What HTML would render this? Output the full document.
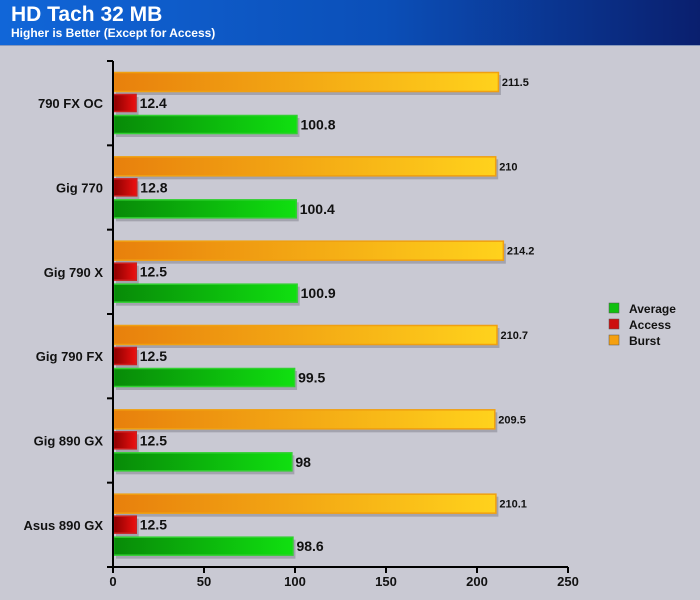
<!DOCTYPE html>
<html><head><meta charset="utf-8"><style>
body{margin:0;width:700px;height:600px;overflow:hidden;background:#c9c9d3;font-family:"Liberation Sans",Arial,sans-serif}
#hdr{position:absolute;left:0;top:0;width:700px;height:45px;background:linear-gradient(90deg,#1166d8 0%,#0b4fb8 55%,#0a1f6e 100%);border-bottom:1px solid #8899bb}
#t1{position:absolute;left:11px;top:3px;color:#fff;font-weight:bold;font-size:21px}
#t2{position:absolute;left:11px;top:26px;color:#fff;font-weight:bold;font-size:12px}
svg{position:absolute;left:0;top:0}
</style></head><body>
<div id="hdr"><div id="t1">HD Tach 32 MB</div><div id="t2">Higher is Better (Except for Access)</div></div>
<svg id="c" width="700" height="600">
<defs>
<linearGradient id="gB" x1="0" x2="1"><stop offset="0" stop-color="#e8800c"/><stop offset="1" stop-color="#ffd21c"/></linearGradient>
<linearGradient id="gA" x1="0" x2="1"><stop offset="0" stop-color="#8a0000"/><stop offset="1" stop-color="#ee1010"/></linearGradient>
<linearGradient id="gV" x1="0" x2="1"><stop offset="0" stop-color="#088a08"/><stop offset="1" stop-color="#10e010"/></linearGradient>
</defs>
</svg>
<script>
const categories=["790 FX OC","Gig 770","Gig 790 X","Gig 790 FX","Gig 890 GX","Asus 890 GX"];
const burst=[211.5,210,214.2,210.7,209.5,210.1];
const access=[12.4,12.8,12.5,12.5,12.5,12.5];
const average=[100.8,100.4,100.9,99.5,98,98.6];
const xTicks=[0,50,100,150,200,250];
const svg=document.getElementById('c');const NS='http://www.w3.org/2000/svg';
const x0=113,xs=1.82,yTop=61,yBot=567,gh=(yBot-yTop)/categories.length;
const X=v=>x0+v*xs;
function mk(t,a,p){const e=document.createElementNS(NS,t);for(const k in a)e.setAttribute(k,a[k]);(p||svg).appendChild(e);return e;}
function txt(s,a){const e=mk('text',a);e.textContent=s;return e;}
const series=[[burst,'url(#gB)','#f0a010',11,20,'burst',11],[access,'url(#gA)','#cc2020',33,18,'access',14],[average,'url(#gV)','#30d030',54,19,'average',14]];
categories.forEach((c,i)=>{const g0=yTop+i*gh;
 const l=txt(c,{x:103,y:g0+gh/2+5,'text-anchor':'end','font-size':13,'font-weight':'bold',fill:'#111'});
 
 
 series.forEach(s=>{const v=s[0][i];
  mk('rect',{x:x0+3,y:g0+s[3]+3,width:v*xs,height:s[4],fill:'#8a8a96',opacity:0.6});
  const r=mk('rect',{x:x0+0.5,y:g0+s[3]+0.5,width:v*xs,height:s[4]-1,fill:s[1],stroke:s[2],'stroke-width':1.5});
  
  
  const t=txt(String(v),{x:X(v)+4,y:g0+s[3]+s[4]/2+(s[6]==11?4:5),'font-size':s[6],'font-weight':'bold',fill:'#111'});
  
  
 });
});
mk('line',{x1:x0,y1:yTop,x2:x0,y2:yBot,stroke:'#000','stroke-width':2});
mk('line',{x1:x0,y1:yBot,x2:X(250),y2:yBot,stroke:'#000','stroke-width':2});
for(let i=0;i<=categories.length;i++)mk('line',{x1:x0-6,y1:yTop+i*gh,x2:x0,y2:yTop+i*gh,stroke:'#000','stroke-width':2});
xTicks.forEach(v=>{mk('line',{x1:X(v),y1:yBot,x2:X(v),y2:yBot+6,stroke:'#000','stroke-width':2});
 const t=txt(String(v),{x:X(v),y:yBot+19,'text-anchor':'middle','font-size':13,'font-weight':'bold',fill:'#111'});
 
 });
[['Average','#10c010'],['Access','#cc1010'],['Burst','#f5a010']].forEach((L,i)=>{const y=303+i*16;
 mk('rect',{x:609,y:y,width:10,height:10,fill:L[1],stroke:'#555','stroke-width':0.5});
 const t=txt(L[0],{x:629,y:y+10,'font-size':12,'font-weight':'bold',fill:'#111'});
 
 });
</script>
</body></html>
